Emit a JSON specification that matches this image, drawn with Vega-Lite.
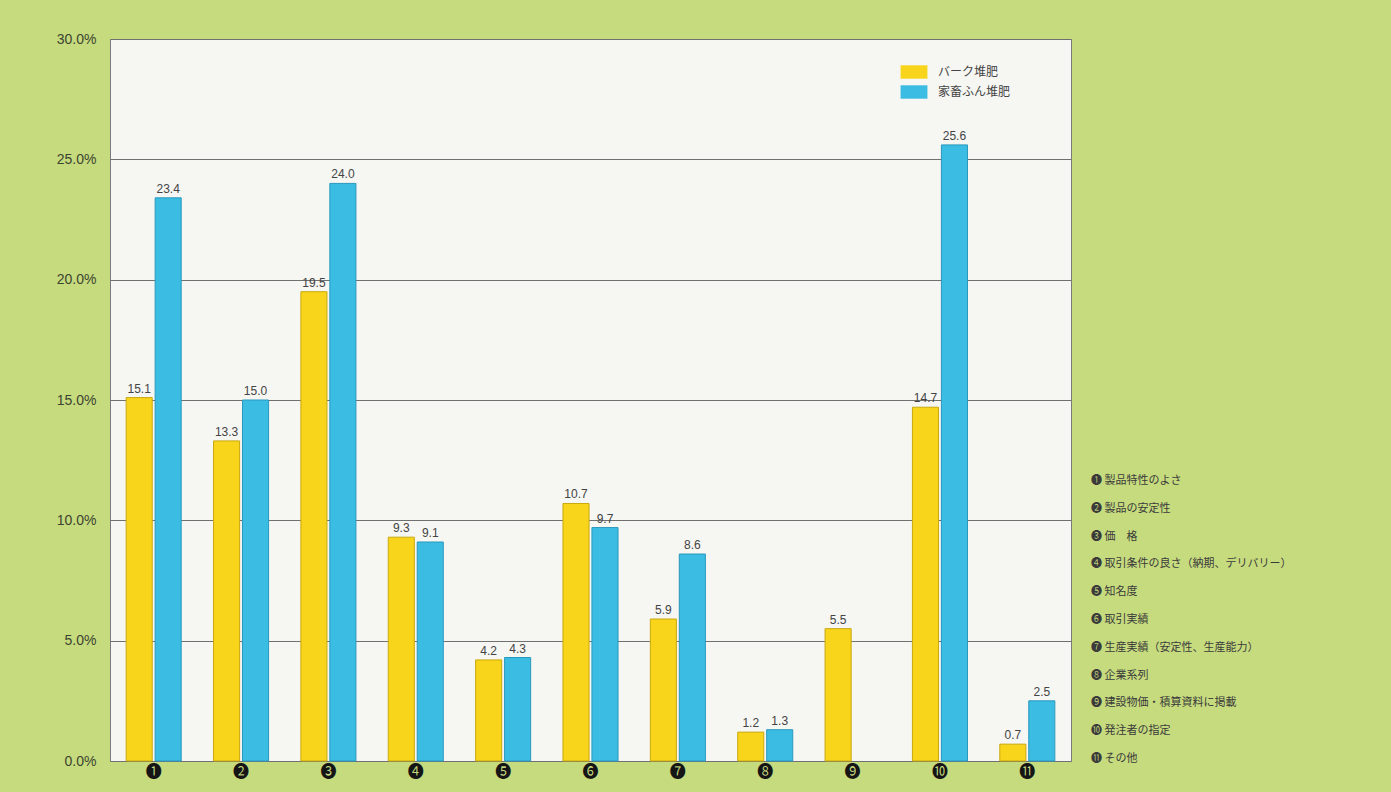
{
  "$schema": "https://vega.github.io/schema/vega-lite/v6.json",
  "background": "#c6da7e",
  "padding": {"left": 49, "top": 31, "right": 99, "bottom": 5},
  "datasets": {
    "bars": [
      {"item": "❶", "series": "バーク堆肥", "value": 15.1},
      {"item": "❶", "series": "家畜ふん堆肥", "value": 23.4},
      {"item": "❷", "series": "バーク堆肥", "value": 13.3},
      {"item": "❷", "series": "家畜ふん堆肥", "value": 15.0},
      {"item": "❸", "series": "バーク堆肥", "value": 19.5},
      {"item": "❸", "series": "家畜ふん堆肥", "value": 24.0},
      {"item": "❹", "series": "バーク堆肥", "value": 9.3},
      {"item": "❹", "series": "家畜ふん堆肥", "value": 9.1},
      {"item": "❺", "series": "バーク堆肥", "value": 4.2},
      {"item": "❺", "series": "家畜ふん堆肥", "value": 4.3},
      {"item": "❻", "series": "バーク堆肥", "value": 10.7},
      {"item": "❻", "series": "家畜ふん堆肥", "value": 9.7},
      {"item": "❼", "series": "バーク堆肥", "value": 5.9},
      {"item": "❼", "series": "家畜ふん堆肥", "value": 8.6},
      {"item": "❽", "series": "バーク堆肥", "value": 1.2},
      {"item": "❽", "series": "家畜ふん堆肥", "value": 1.3},
      {"item": "❾", "series": "バーク堆肥", "value": 5.5},
      {"item": "❿", "series": "バーク堆肥", "value": 14.7},
      {"item": "❿", "series": "家畜ふん堆肥", "value": 25.6},
      {"item": "⓫", "series": "バーク堆肥", "value": 0.7},
      {"item": "⓫", "series": "家畜ふん堆肥", "value": 2.5}
    ],
    "items": [
      {"item": "❶", "label": "❶ 製品特性のよさ"},
      {"item": "❷", "label": "❷ 製品の安定性"},
      {"item": "❸", "label": "❸ 価　格"},
      {"item": "❹", "label": "❹ 取引条件の良さ（納期、デリバリー）"},
      {"item": "❺", "label": "❺ 知名度"},
      {"item": "❻", "label": "❻ 取引実績"},
      {"item": "❼", "label": "❼ 生産実績（安定性、生産能力）"},
      {"item": "❽", "label": "❽ 企業系列"},
      {"item": "❾", "label": "❾ 建設物価・積算資料に掲載"},
      {"item": "❿", "label": "❿ 発注者の指定"},
      {"item": "⓫", "label": "⓫ その他"}
    ]
  },
  "hconcat": [
    {
      "width": 961,
      "height": 722,
      "data": {"name": "bars"},
      "encoding": {
        "x": {
          "field": "item", "type": "nominal", "sort": null,
          "scale": {"paddingInner": 0.37, "paddingOuter": 0.185},
          "axis": {"title": null, "domain": false, "ticks": false, "labelAngle": 0, "labelFont": "Noto Sans CJK JP", "labelFontSize": 16, "labelColor": "#151515", "labelPadding": 2, "minExtent": 27, "maxExtent": 27}
        },
        "xOffset": {"field": "series", "type": "nominal", "sort": ["バーク堆肥", "家畜ふん堆肥"], "scale": {"domain": ["バーク堆肥", "家畜ふん堆肥"], "paddingInner": 0.1}},
        "y": {
          "field": "value", "type": "quantitative",
          "scale": {"domain": [0, 30], "nice": false},
          "axis": {"title": null, "values": [0, 5, 10, 15, 20, 25, 30], "labelExpr": "format(datum.value, '.1f') + '%'", "grid": true, "gridColor": "#707070", "gridWidth": 1, "domain": false, "ticks": false, "labelFont": "Liberation Sans", "labelFontSize": 14, "labelColor": "#3c4530", "labelPadding": 14, "minExtent": 60, "maxExtent": 60}
        }
      },
      "layer": [
        {
          "mark": {"type": "bar", "strokeWidth": 1},
          "encoding": {
            "color": {
              "field": "series", "type": "nominal", "sort": ["バーク堆肥", "家畜ふん堆肥"],
              "scale": {"domain": ["バーク堆肥", "家畜ふん堆肥"], "range": ["#f8d51a", "#3bbde3"]},
              "legend": {
                "title": null, "orient": "none", "legendX": 797, "legendY": 26,
                "symbolType": "M-2,-1H2V1H-2Z", "symbolSize": 180, "symbolStrokeWidth": 0,
                "labelFont": "Noto Sans CJK JP", "labelFontSize": 12, "labelColor": "#444444", "labelOffset": 17, "rowPadding": 6
              }
            },
            "stroke": {
              "field": "series", "type": "nominal",
              "scale": {"domain": ["バーク堆肥", "家畜ふん堆肥"], "range": ["#c9a90e", "#2a98bd"]},
              "legend": null
            }
          }
        },
        {
          "mark": {"type": "text", "baseline": "bottom", "dy": -2, "font": "Liberation Sans", "fontSize": 12, "color": "#444444"},
          "encoding": {
            "text": {"field": "value", "type": "quantitative", "format": ".1f"}
          }
        }
      ]
    },
    {
      "width": 2,
      "height": 722,
      "view": {"stroke": null, "fill": null},
      "data": {"name": "items"},
      "mark": {"type": "text", "align": "left", "baseline": "middle", "font": "Noto Sans CJK JP", "fontSize": 11, "color": "#3a3a3a"},
      "encoding": {
        "y": {"field": "item", "type": "ordinal", "sort": null, "scale": {"type": "point", "padding": 0, "range": [442, 720]}, "axis": null},
        "text": {"field": "label", "type": "nominal"}
      }
    }
  ],
  "spacing": 18,
  "config": {
    "view": {"stroke": "#7a7a7a", "fill": "#f6f6f3"}
  }
}
